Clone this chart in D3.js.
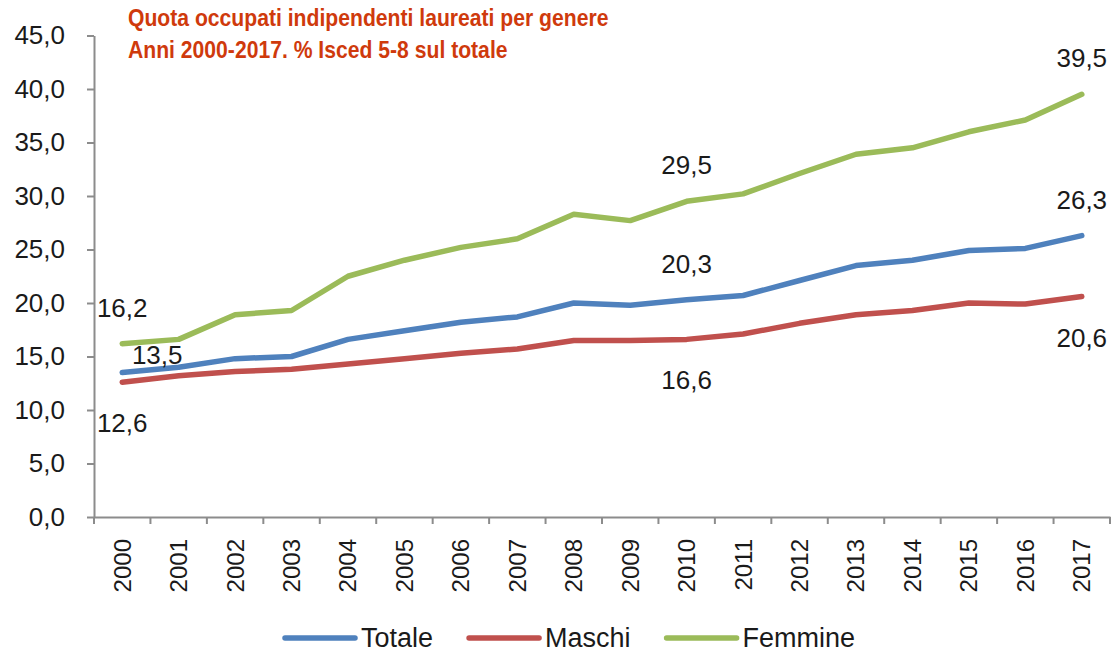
<!DOCTYPE html>
<html>
<head>
<meta charset="utf-8">
<script src="https://cdn.jsdelivr.net/npm/d3@7"></script>
<style>
  body { margin: 0; background: #fff; }
  svg { display: block; }
</style>
</head>
<body>
<svg id="chart" width="1113" height="654"></svg>
<script>
// data
const years = ["2000", "2001", "2002", "2003", "2004", "2005", "2006", "2007", "2008",
               "2009", "2010", "2011", "2012", "2013", "2014", "2015", "2016", "2017"];
const totale  = [13.5, 14.0, 14.8, 15.0, 16.6, 17.4, 18.2, 18.7, 20.0, 19.8, 20.3, 20.7, 22.1, 23.5, 24.0, 24.9, 25.1, 26.3];
const maschi  = [12.6, 13.2, 13.6, 13.8, 14.3, 14.8, 15.3, 15.7, 16.5, 16.5, 16.6, 17.1, 18.1, 18.9, 19.3, 20.0, 19.9, 20.6];
const femmine = [16.2, 16.6, 18.9, 19.3, 22.5, 24.0, 25.2, 26.0, 28.3, 27.7, 29.5, 30.2, 32.1, 33.9, 34.5, 36.0, 37.1, 39.5];
const seriesNames = ["Totale", "Maschi", "Femmine"];
const yTicks = [0, 5, 10, 15, 20, 25, 30, 35, 40, 45];
const labelYears = ["2000", "2010", "2017"]; // years with value labels
const titleLines = ["Quota occupati indipendenti laureati per genere",
                    "Anni 2000-2017. % Isced 5-8 sul totale"];

const colors = { "Totale": "#4f81bd", "Maschi": "#c0504d", "Femmine": "#9bbb59" };
const values = { "Totale": totale, "Maschi": maschi, "Femmine": femmine };

// plot box
const plotLeft = 94, plotRight = 1110, plotTop = 35.5, plotBottom = 517;
const axisColor = "#8c8c8c";
const textColor = "#1a1a1a";
const font = "'Liberation Sans', Arial, sans-serif";

const svg = d3.select("#chart");

const x = d3.scaleBand().domain(years).range([plotLeft, plotRight]).padding(0);
const y = d3.scaleLinear().domain([0, 45]).range([plotBottom, plotTop]);
const fmt = d => d3.format(".1f")(d).replace(".", ",");

// y axis
const yAxis = svg.append("g")
    .attr("transform", `translate(${plotLeft},0)`)
    .call(d3.axisLeft(y).tickValues(yTicks).tickSize(7).tickSizeOuter(0).tickPadding(22).tickFormat(fmt));
yAxis.select(".domain").attr("stroke", axisColor).attr("stroke-width", 2);
yAxis.selectAll(".tick line").attr("stroke", axisColor).attr("stroke-width", 2);
yAxis.selectAll(".tick text")
    .attr("font-family", font)
    .attr("font-size", "26px")
    .attr("fill", textColor);

// x axis (labels only, ticks drawn between categories)
const xAxis = svg.append("g")
    .attr("transform", `translate(0,${plotBottom})`)
    .call(d3.axisBottom(x).tickSize(0).tickSizeOuter(0));
xAxis.select(".domain").attr("stroke", axisColor).attr("stroke-width", 2);
xAxis.selectAll(".tick text")
    .attr("transform", "rotate(-90)")
    .attr("text-anchor", "end")
    .attr("x", -22)
    .attr("y", 0)
    .attr("dy", "0.35em")
    .attr("font-family", font)
    .attr("font-size", "24px")
    .attr("fill", textColor);

const edges = years.map(d => x(d)).concat([x(years[years.length - 1]) + x.bandwidth()]);
svg.append("g")
    .selectAll("line")
    .data(edges)
    .enter().append("line")
    .attr("x1", d => d)
    .attr("x2", d => d)
    .attr("y1", plotBottom)
    .attr("y2", plotBottom + 7)
    .attr("stroke", axisColor)
    .attr("stroke-width", 2);

// lines
const line = d3.line()
    .x((d, i) => x(years[i]) + x.bandwidth() / 2)
    .y(d => y(d));

svg.append("g")
    .selectAll("path")
    .data(seriesNames)
    .enter().append("path")
    .attr("d", s => line(values[s]))
    .attr("fill", "none")
    .attr("stroke", s => colors[s])
    .attr("stroke-width", 5.5)
    .attr("stroke-linejoin", "round")
    .attr("stroke-linecap", "round");

// value labels
const labels = [];
seriesNames.forEach(s => {
    labelYears.forEach(yr => {
        const i = years.indexOf(yr);
        let dx = 0, dy = -27;
        if (s === "Maschi") dy = 50;
        if (s === "Totale" && i === 0) { dx = 35; dy = -9; }
        labels.push({ s, yr, v: values[s][i], dx, dy });
    });
});

svg.append("g")
    .selectAll("text")
    .data(labels)
    .enter().append("text")
    .attr("x", d => x(d.yr) + x.bandwidth() / 2 + d.dx)
    .attr("y", d => y(d.v) + d.dy)
    .attr("text-anchor", "middle")
    .attr("font-family", font)
    .attr("font-size", "26px")
    .attr("fill", textColor)
    .text(d => fmt(d.v));

// title (condensed look: squeeze horizontally)
svg.append("g")
    .selectAll("text")
    .data(titleLines)
    .enter().append("text")
    .attr("transform", (d, i) => `translate(128,${26 + i * 32}) scale(0.92,1)`)
    .attr("font-family", "'Liberation Sans Narrow', 'Arial Narrow', 'Liberation Sans', sans-serif")
    .attr("font-weight", "bold")
    .attr("font-size", "23px")
    .attr("fill", "#cf3a0c")
    .text(d => d);

// legend
const legend = svg.append("g").attr("transform", "translate(285,638)");
let lx = 0;
seriesNames.forEach(s => {
    const g = legend.append("g").attr("transform", `translate(${lx},0)`);
    g.append("line")
        .attr("x1", 0).attr("x2", 70)
        .attr("y1", 0).attr("y2", 0)
        .attr("stroke", colors[s])
        .attr("stroke-width", 5.5)
        .attr("stroke-linecap", "round");
    const t = g.append("text")
        .attr("x", 76)
        .attr("dy", "0.35em")
        .attr("font-family", font)
        .attr("font-size", "27px")
        .attr("fill", textColor)
        .text(s);
    lx += 76 + t.node().getComputedTextLength() + 36;
});
</script>
</body>
</html>
